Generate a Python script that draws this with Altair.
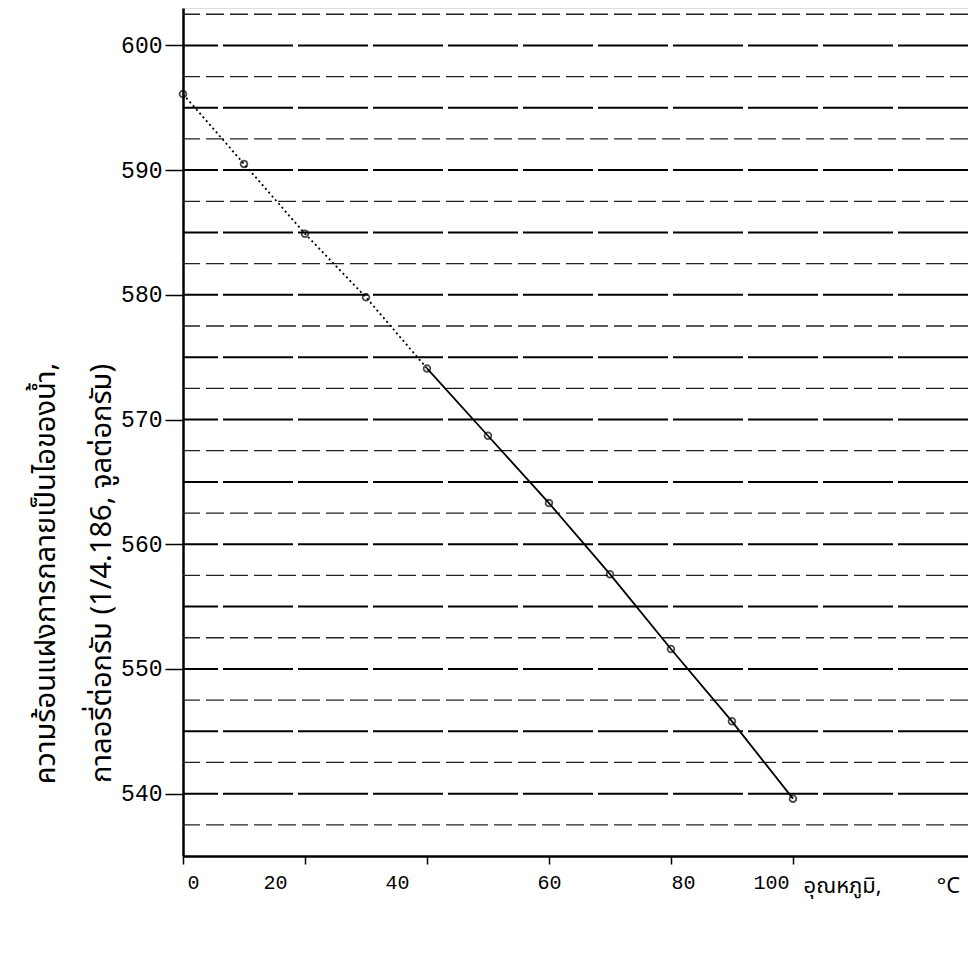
import altair as alt
import pandas as pd

# data
temps = [0, 10, 20, 30, 40, 50, 60, 70, 80, 90, 100]
heat = [596.1, 590.5, 584.9, 579.8, 574.1, 568.7, 563.3, 557.6, 551.6, 545.8, 539.6]
major_levels = [540, 545, 550, 555, 560, 565, 570, 575, 580, 585, 590, 595, 600]
minor_levels = [537.5, 542.5, 547.5, 552.5, 557.5, 562.5, 567.5, 572.5, 577.5, 582.5, 587.5, 592.5, 597.5, 602.5]
y_ticks = [540, 550, 560, 570, 580, 590, 600]
x_ticks = [0, 20, 40, 60, 80, 100]

FONT = "Noto Sans Thai, Loma, Garuda, Noto Sans, DejaVu Sans"
MONO = "Liberation Mono, DejaVu Sans Mono"

df = pd.DataFrame({"t": temps, "h": heat})
dotted = df[df.t <= 40]
solid = df[df.t >= 40]
major = pd.DataFrame({"level": major_levels})
minor = pd.DataFrame({"level": minor_levels})

xs = alt.Scale(domain=[0, 128.7], nice=False, zero=False)
ys = alt.Scale(domain=[535, 603], nice=False, zero=False)

label_shift = {
    "condition": [
        {"test": "datum.value == 0", "value": 4},
        {"test": "datum.value == 20", "value": -30},
        {"test": "datum.value == 40", "value": -30},
        {"test": "datum.value == 80", "value": 12},
        {"test": "datum.value == 100", "value": -22},
    ],
    "value": 0,
}

xax = alt.Axis(
    values=x_ticks, grid=False, domainColor="black", domainWidth=2.5,
    tickColor="black", tickSize=8, tickWidth=1.5,
    labelFont=MONO, labelFontSize=20, labelColor="black", labelPadding=8,
    labelOffset=label_shift,
    title="อุณหภูมิ,\u2003\u2003\u2002°C", titleFont=FONT, titleFontSize=22,
    titleFontWeight="normal", titleColor="black", titleAnchor="start",
    titleAlign="left", titleX=620, titleY=29, titleBaseline="middle",
)
yax = alt.Axis(
    values=y_ticks, grid=False, domainColor="black", domainWidth=2.5,
    tickColor="black", tickSize=18, tickWidth=1.5,
    labelFont=MONO, labelFontSize=23, labelColor="black", labelPadding=3,
    title=["ความร้อนแฝงการกลายเป็นไอของน้ำ,", "กาลอรี่ต่อกรัม (1/4.186, จูลต่อกรัม)"],
    titleFont=FONT, titleFontSize=29, titleFontWeight="normal", titleColor="black",
    titleLineHeight=56, titleAngle=270, titleX=-138, titleY=565, titleAlign="center",
    titleBaseline="middle",
)

minor_rules = alt.Chart(minor).mark_rule(color="#222", strokeWidth=1.3, strokeDash=[18, 6]).encode(
    y=alt.Y("level:Q", scale=ys, axis=yax)
)
major_rules = alt.Chart(major).mark_rule(color="black", strokeWidth=2, strokeDash=[70, 5]).encode(
    y=alt.Y("level:Q", scale=ys)
)
line_dot = alt.Chart(dotted).mark_line(color="black", strokeWidth=1.8, strokeDash=[2, 3]).encode(
    x=alt.X("t:Q", scale=xs, axis=xax), y=alt.Y("h:Q", scale=ys)
)
line_solid = alt.Chart(solid).mark_line(color="black", strokeWidth=1.8).encode(
    x=alt.X("t:Q", scale=xs), y=alt.Y("h:Q", scale=ys)
)
pts = alt.Chart(df).mark_point(color="black", size=45, strokeWidth=1.8, filled=False).encode(
    x=alt.X("t:Q", scale=xs), y=alt.Y("h:Q", scale=ys)
)

chart = alt.layer(minor_rules, major_rules, line_dot, line_solid, pts).properties(
    width=785, height=848,
    padding={"left": 175, "top": 0, "right": 0, "bottom": 100},
    autosize=alt.AutoSizeParams(type="none"),
).configure_view(stroke=None).configure(background="white")

chart.save("out.html", embed_options={"renderer": "svg", "actions": False})
